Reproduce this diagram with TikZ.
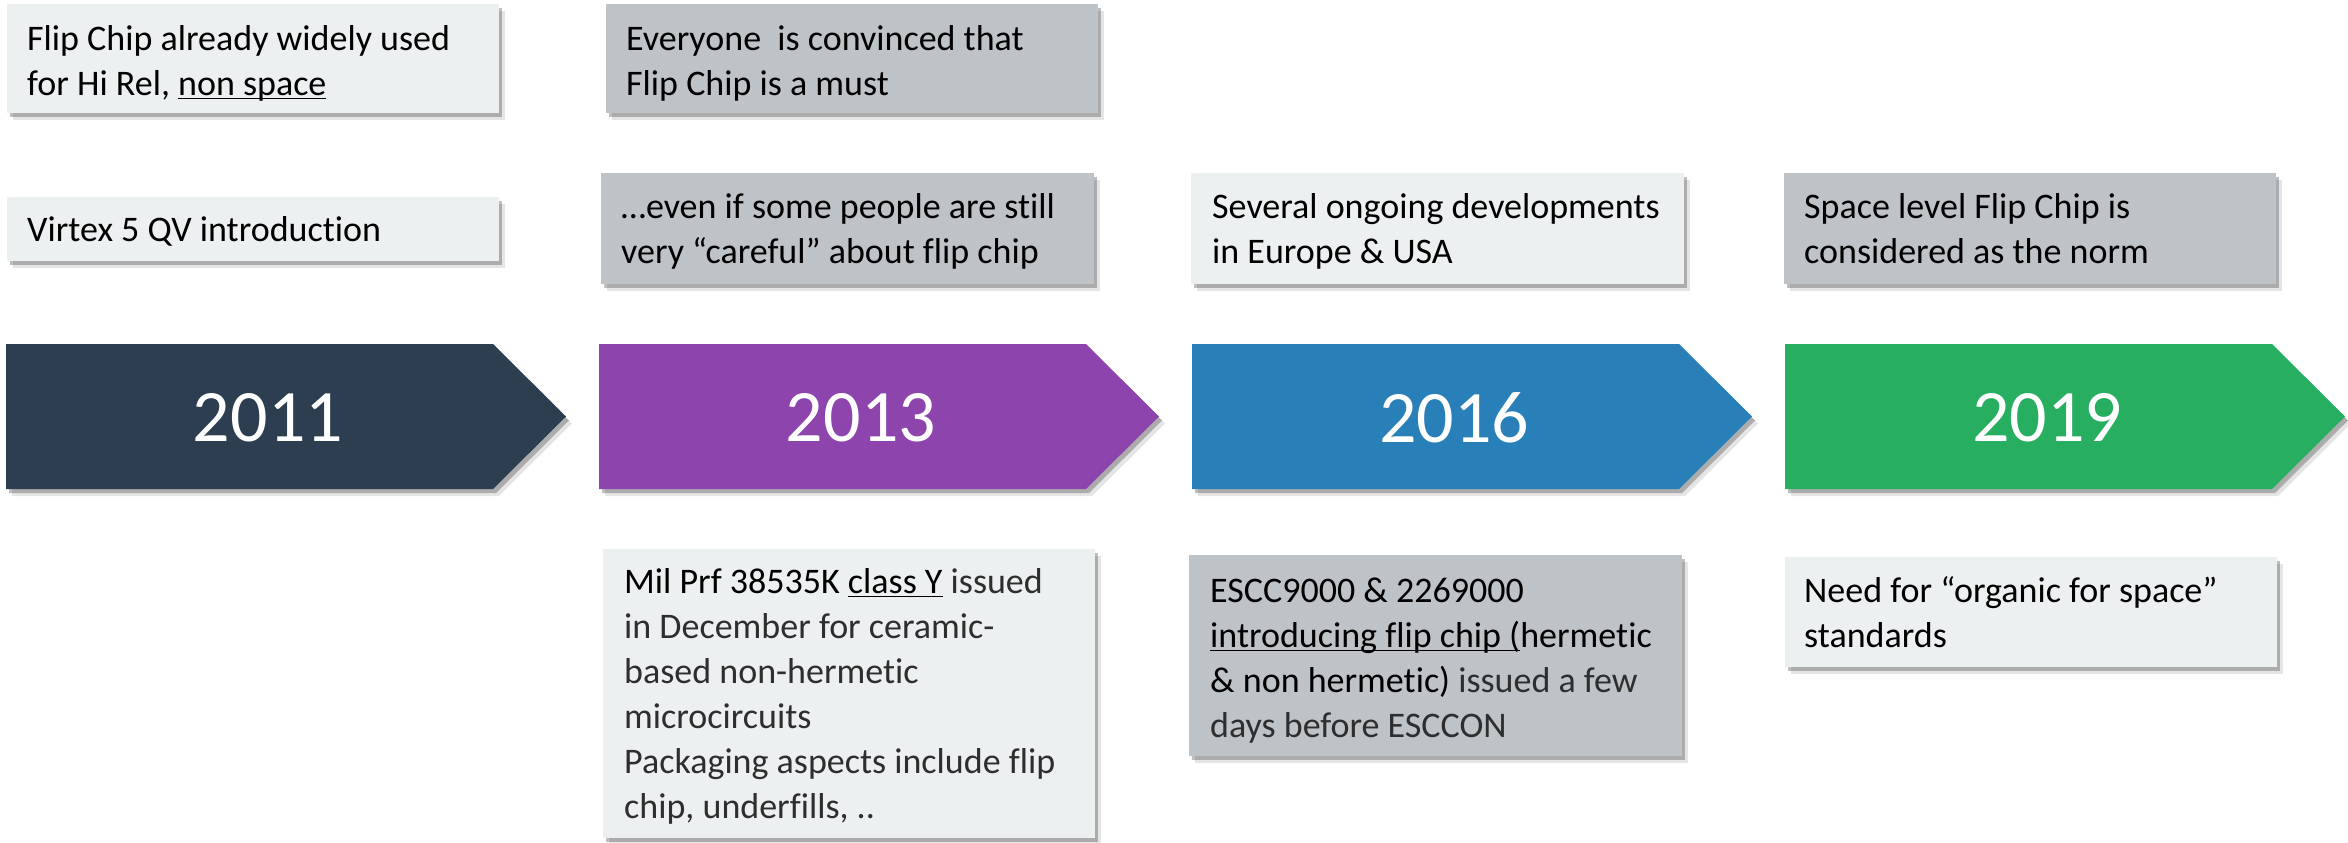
\documentclass[tikz,border=0pt]{standalone}
\usepackage{fontspec}
\setmainfont{Carlito}[Ligatures=NoCommon]
\usetikzlibrary{shadows}

\definecolor{boxlight}{HTML}{ECF0F1}
\definecolor{boxdark}{HTML}{BDC3C7}
\definecolor{c2011}{HTML}{2C3E50}
\definecolor{c2013}{HTML}{8E44AD}
\definecolor{c2016}{HTML}{2980B9}
\definecolor{c2019}{HTML}{27AE60}
\definecolor{softtext}{HTML}{2E2E2E}

% underline drawn as a rule just below the baseline
\newsavebox\ulinebox
\newcommand\uln[1]{\sbox\ulinebox{#1}\rlap{\rule[-4pt]{\wd\ulinebox}{1.6pt}}\usebox\ulinebox}
% lighter-weight text segments
\newcommand\lt[1]{\textcolor{softtext}{#1}}
% fixed height of the first text line, so baselines sit at a known place
\newcommand\topline{\rule{0pt}{30pt}}

\tikzset{
  softshadow/.style={
    drop shadow={shadow xshift=6pt,shadow yshift=-7pt,fill=black,opacity=0.10},
    drop shadow={shadow xshift=3pt,shadow yshift=-4pt,fill=black,opacity=0.25}},
  card/.style={draw=none, inner sep=0pt, anchor=north west, softshadow},
  lightcard/.style={card, fill=boxlight},
  darkcard/.style={card, fill=boxdark},
  cardtext/.style={anchor=north west, inner sep=0pt, align=left,
    font=\fontsize{36}{45}\selectfont},
  yeartext/.style={text=white, font=\fontsize{74}{80}\selectfont, inner sep=0pt},
}

% year chevron: left edge, colour, year, node name
\newcommand\yearchev[4]{%
  \fill[#2, softshadow] (#1,344) -- (#1+487,344) -- (#1+560,416.5)
    -- (#1+487,489) -- (#1,489) -- cycle;
  \node[yeartext] (#4) at (#1+262,418) {#3};
}

\begin{document}
\begin{tikzpicture}[x=1pt,y=-1pt]
\useasboundingbox (0,0) rectangle (2348,843);

% timeline
\yearchev{6}{c2011}{2011}{y2011}
\yearchev{599}{c2013}{2013}{y2013}
\yearchev{1192}{c2016}{2016}{y2016}
\yearchev{1785}{c2019}{2019}{y2019}

% 2011 notes
\node[lightcard, minimum width=492pt, minimum height=109pt] (a1) at (7,4) {};
\node[cardtext] (a1t) at (27,20) {\topline Flip Chip already widely used\\for Hi Rel, \uln{non space}};
\node[lightcard, minimum width=492pt, minimum height=64pt] (a2) at (7,197) {};
\node[cardtext] (a2t) at (27,211) {\topline Virtex 5 QV introduction};

% 2013 notes
\node[darkcard, minimum width=492pt, minimum height=109pt] (b1) at (606,4) {};
\node[cardtext] (b1t) at (626,20) {\topline Everyone\ \ is convinced that\\Flip Chip is a must};
\node[darkcard, minimum width=493pt, minimum height=111pt] (b2) at (601,173) {};
\node[cardtext] (b2t) at (621,188) {\topline …even if some people are still\\very “careful” about flip chip};
\node[lightcard, minimum width=492pt, minimum height=289pt] (b3) at (603,549) {};
\node[cardtext] (b3t) at (624,563) {\topline Mil Prf 38535K \uln{class Y} \lt{issued}\\\lt{in December for ceramic-}\\\lt{based non-hermetic}\\\lt{microcircuits}\\\lt{Packaging aspects include flip}\\\lt{chip, underfills, ..}};

% 2016 notes
\node[lightcard, minimum width=493pt, minimum height=111pt] (c2) at (1191,173) {};
\node[cardtext] (c2t) at (1212,188) {\topline Several ongoing developments\\in Europe \& USA};
\node[darkcard, minimum width=493pt, minimum height=201pt] (c3) at (1189,555) {};
\node[cardtext] (c3t) at (1210,572) {\topline ESCC9000 \& 2269000\\\uln{introducing flip chip (}hermetic\\\& non hermetic) \lt{issued a few}\\\lt{days before ESCCON}};

% 2019 notes
\node[darkcard, minimum width=492pt, minimum height=111pt] (d2) at (1784,173) {};
\node[cardtext] (d2t) at (1804,188) {\topline Space level Flip Chip is\\considered as the norm};
\node[lightcard, minimum width=492pt, minimum height=110pt] (d3) at (1785,557) {};
\node[cardtext] (d3t) at (1804,572) {\topline Need for “organic for space”\\standards};
\end{tikzpicture}
\end{document}
